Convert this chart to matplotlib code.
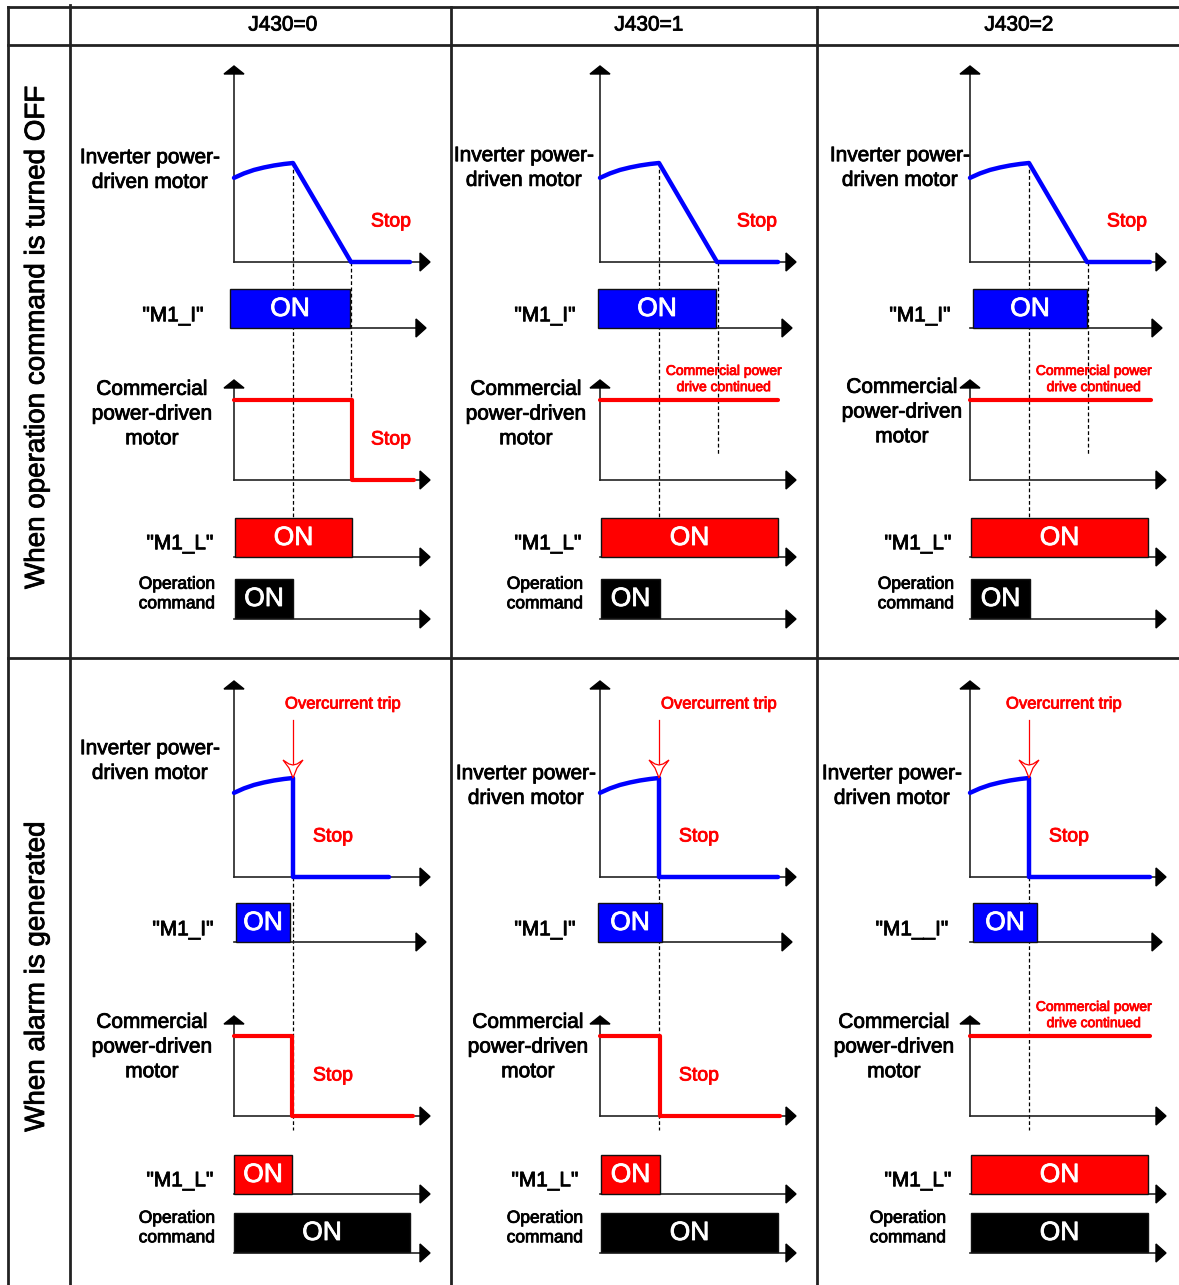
#!/usr/bin/env python3
import matplotlib
matplotlib.use("Agg")
import matplotlib.pyplot as plt
import matplotlib.patheffects as pe
from matplotlib.patches import Polygon, Rectangle

plt.rcParams['font.family'] = ['Liberation Sans', 'DejaVu Sans']

RED = "#ff0000"
BLUE = "#0000ff"
AX = "#222222"

col_labels = ["J430=0", "J430=1", "J430=2"]
row_labels = ["When operation command is turned OFF", "When alarm is generated"]

# time axis origin of each column (px), time values below are px after origin
axis_x = [234, 600, 970]

# inverter motor speed before the command/trip (1.0 = speed at t_cmd)
rise_t = [0, 10, 20, 30, 40, 50, 59]
rise_v = [0.85, 0.895, 0.93, 0.955, 0.975, 0.99, 1.0]
t_cmd = 59          # operation command off / overcurrent trip
t_stop = 117        # decel finished (top row)
inv_end = [[176, 178, 180], [155, 178, 180]]

m1i_on = [[(-4, 116), (-2, 116), (3, 117)], [(2, 56), (-2, 62), (3, 67)]]
m1l_on = [[(1, 118), (1, 178), (1, 178)], [(0, 58), (1, 60), (1, 178)]]
op_on = [[(1, 59), (1, 60), (1, 60)], [(0, 176), (1, 178), (1, 178)]]
comm_off = [[118, None, None], [58, 60, None]]     # None = drive continued
comm_end = [[180, 178, 181], [179, 180, 180]]

m1i_names = [['"M1_I"', '"M1_I"', '"M1_I"'], ['"M1_I"', '"M1_I"', '"M1__I"']]

# label positions
inv_lab = [[(150, 170), (524, 168), (900, 168)], [(150, 761), (526, 786), (892, 786)]]
m1i_lab_x = [[173, 545, 920], [183, 545, 912]]
comm_lab = [[(152, 414), (526, 414), (902, 412)], [(152, 1047), (528, 1047), (894, 1047)]]
m1l_lab_x = [[180, 548, 918], [180, 545, 918]]
op_lab_x = [[177, 545, 916], [177, 545, 908]]
trip_lab_dx = [109, 119, 94]

# baselines of the five traces in each row
base_inv = [262, 877]
base_m1i = [328, 942]
base_comm = [480, 1116]
base_m1l = [557, 1194]
base_op = [619, 1253]

SP = 99      # px per unit speed
CL = 80      # commercial level px

fig = plt.figure(figsize=(11.79, 12.85), dpi=100)
ax = fig.add_axes([0, 0, 1, 1])
ax.set_xlim(0, 1179)
ax.set_ylim(1285, 0)
ax.axis("off")


def txt(x, y, s, color="black", size=15, **kw):
    # the original text is rendered a little heavier than plain regular
    ax.text(x, y, s, color=color, fontsize=size, ha="center", va="center",
            path_effects=[pe.withStroke(linewidth=0.6, foreground=color)], **kw)


def arrow_x(x0, x1, y):
    ax.plot([x0, x1 - 9], [y, y], color=AX, lw=1.2, zorder=2)
    ax.add_patch(Polygon([[x1 - 10, y - 9], [x1, y], [x1 - 10, y + 9]],
                         closed=True, color="black", zorder=3))


def arrow_y(x, y0, y1):
    ax.plot([x, x], [y0, y1 + 8], color=AX, lw=1.2, zorder=2)
    ax.add_patch(Polygon([[x - 10, y1 + 8], [x, y1], [x + 10, y1 + 8]],
                         closed=True, color="black", zorder=3))


def on_box(x0, on, base, color):
    a, b = on
    ax.add_patch(Rectangle((x0 + a, base - 39), b - a, 39, facecolor=color,
                           edgecolor="#111111", lw=1.0, zorder=4))
    ax.text(x0 + (a + b) / 2, base - 19, "ON", color="white", fontsize=19,
            ha="center", va="center", zorder=5,
            path_effects=[pe.withStroke(linewidth=0.6, foreground="white")])


def dashed(x, y0, y1):
    ax.plot([x, x], [y0, y1], color="black", lw=0.9, ls=(0, (3, 2)), zorder=1)


# table grid
lw_grid = 2.0
ax.plot([8, 1179], [7, 7], color=AX, lw=lw_grid)
ax.plot([8, 1179], [45, 45], color=AX, lw=lw_grid)
ax.plot([8, 1179], [658, 658], color=AX, lw=lw_grid)
for gx in [8, 70, 451, 817]:
    ax.plot([gx, gx], [5 if gx == 70 else 7, 1285], color=AX, lw=lw_grid)

for c, lab in enumerate(col_labels):
    txt(axis_x[c] + 49, 25, lab, size=15)

txt(37, 338, row_labels[0], size=20, rotation=90)
txt(37, 977, row_labels[1], size=20, rotation=90)

for r in range(2):
    for c in range(3):
        x0 = axis_x[c]

        # inverter driven motor
        b = base_inv[r]
        arrow_y(x0, b, b - 196)
        arrow_x(x0, x0 + 196, b)
        xs = [x0 + t for t in rise_t]
        ys = [b - v * SP for v in rise_v]
        if r == 0:
            xs += [x0 + t_stop, x0 + inv_end[r][c]]
            ys += [b, b]
        else:
            xs += [x0 + t_cmd, x0 + inv_end[r][c]]
            ys += [b, b]
        ax.plot(xs, ys, color=BLUE, lw=3.2, solid_capstyle="round",
                solid_joinstyle="round", zorder=4)
        tx, ty = inv_lab[r][c]
        txt(tx, ty, "Inverter power-\ndriven motor", linespacing=1.38)
        if r == 0:
            txt(x0 + 157, b - 40, "Stop", color=RED, size=14)
        else:
            txt(x0 + 99, b - 40, "Stop", color=RED, size=14)
            txt(x0 + trip_lab_dx[c], b - 173, "Overcurrent trip", color=RED,
                size=12)
            tip = b - SP
            xt = x0 + t_cmd
            ax.plot([xt, xt], [b - 157, tip - 14], color=RED, lw=0.9, zorder=3)
            ax.add_patch(Polygon([[xt - 10, tip - 18], [xt - 4, tip - 14],
                                  [xt, tip - 13], [xt + 4, tip - 14],
                                  [xt + 10, tip - 18], [xt + 4, tip - 10],
                                  [xt, tip], [xt - 4, tip - 10]],
                                 closed=True, facecolor="white", edgecolor=RED,
                                 lw=0.9, zorder=5))

        # M1_I
        b = base_m1i[r]
        arrow_x(x0, x0 + 192, b)
        on_box(x0, m1i_on[r][c], b, BLUE)
        txt(m1i_lab_x[r][c], b - 12, m1i_names[r][c])

        # commercial power driven motor
        b = base_comm[r]
        arrow_y(x0, b, b - 100)
        arrow_x(x0, x0 + 196, b)
        off = comm_off[r][c]
        if off is None:
            ax.plot([x0, x0 + comm_end[r][c]], [b - CL, b - CL], color=RED,
                    lw=3.0, solid_capstyle="round", zorder=4)
            txt(x0 + 124, b - 101, "Commercial power\ndrive continued",
                color=RED, size=10, linespacing=1.2)
        else:
            ax.plot([x0, x0 + off, x0 + off, x0 + comm_end[r][c]],
                    [b - CL, b - CL, b, b], color=RED, lw=3.0,
                    solid_capstyle="round", zorder=4)
            txt(x0 + (157 if r == 0 else 99), b - 40, "Stop", color=RED,
                size=14)
        tx, ty = comm_lab[r][c]
        txt(tx, ty, "Commercial\npower-driven\nmotor", linespacing=1.38)

        # M1_L
        b = base_m1l[r]
        arrow_x(x0, x0 + 196, b)
        on_box(x0, m1l_on[r][c], b, RED)
        txt(m1l_lab_x[r][c], b - 13, '"M1_L"')

        # operation command
        b = base_op[r]
        arrow_x(x0, x0 + 196, b)
        on_box(x0, op_on[r][c], b - 1, "black")
        txt(op_lab_x[r][c], b - 25, "Operation\ncommand", size=12.5,
            linespacing=1.38)

        # timing guides
        if r == 0:
            dashed(x0 + t_cmd, base_inv[r] - SP, base_m1l[r] - 39)
            dashed(x0 + t_stop + (1 if c else 0), base_inv[r],
                   base_comm[r] if c == 0 else base_comm[r] - 25)
        else:
            dashed(x0 + t_cmd, base_inv[r], base_comm[r] + 14)

plt.savefig("out.png", dpi=100)
